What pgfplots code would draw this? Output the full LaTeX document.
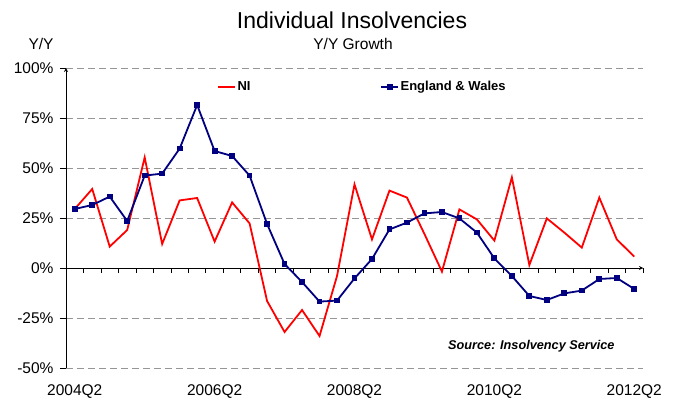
\documentclass[border=0pt]{standalone}
\usepackage{fontspec}
\setmainfont{Liberation Sans}
\usepackage{pgfplots}
\usepackage{pgfplotstable}
\pgfplotsset{compat=1.18}

\definecolor{ewblue}{RGB}{0,0,128}
\definecolor{nired}{RGB}{255,0,0}
\definecolor{gridgray}{RGB}{150,150,150}

% Year-on-year growth of individual insolvencies, quarterly from 2004Q2 to 2012Q2
\pgfplotstableread{
q  ni     ew
0  29.5   29.5
1  39.5   31.5
2  10.7   35.7
3  19.0   23.5
4  55.3   46.2
5  12.0   47.2
6  33.8   59.7
7  35.0   81.5
8  13.2   58.5
9  32.8   56.0
10 22.3   46.2
11 -16.5  22.0
12 -32.0  2.0
13 -21.0  -7.0
14 -34.0  -16.8
15 -4.0   -16.3
16 41.8   -5.2
17 14.3   4.5
18 38.7   19.3
19 35.2   22.7
20 17.0   27.3
21 -1.8   28.0
22 29.3   24.8
23 24.3   17.7
24 13.7   4.8
25 45.3   -4.0
26 1.5    -14.0
27 24.8   -16.0
28 17.7   -12.7
29 10.2   -11.3
30 35.2   -5.5
31 14.3   -5.0
32 5.7    -10.5
}\growth

\pgfplotsset{
  frame/.style={
    scale only axis, width=577pt, height=300pt,
    at={(66pt,33pt)}, anchor=south west,
    xmin=-0.5, xmax=32.5, ymin=-50, ymax=100,
    axis line style={black, line width=0.8pt, -},
    tick style={black, line width=0.8pt},
    /pgf/number format/assume math mode=true,
    legend style={draw=none, fill=none, inner sep=0pt, anchor=west,
      font=\bfseries\fontsize{13}{15}\selectfont,
      nodes={inner sep=1.5pt}},
  },
}

\begin{document}
\begin{tikzpicture}[x=1pt, y=1pt]
\path[use as bounding box] (0,0) rectangle (676,401);

% grid, value axis and period labels
\begin{axis}[frame,
  axis y line=left, axis x line=bottom,
  x axis line style={draw=none},
  xtick={0,8,16,24,32},
  xticklabels={2004Q2,2006Q2,2008Q2,2010Q2,2012Q2},
  major x tick style={draw=none},
  xticklabel style={font=\fontsize{15.5}{18}\selectfont, yshift=-10pt},
  ytick={-50,-25,...,100},
  yticklabel={\pgfmathprintnumber{\tick}\%},
  yticklabel style={font=\fontsize{15.5}{18}\selectfont, xshift=-3pt},
  ytick align=outside, major tick length=6pt,
  ymajorgrids,
  grid style={gridgray, line width=0.8pt, dash pattern=on 7pt off 4pt},
  legend style={at={(rel axis cs:0.2617,0.937)}},
]
\addlegendimage{nired, line width=1.8pt}
\addlegendentry{NI}
\end{axis}

% zero line with quarter ticks, and the two series
\begin{axis}[frame,
  axis y line=none, axis x line=middle,
  xtick={-0.5,0.5,...,32.5}, xticklabels={},
  xtick align=outside, major tick length=5pt,
  ytick=\empty,
  legend style={at={(rel axis cs:0.5442,0.937)}},
]
\addplot[nired, line width=1.8pt, forget plot] table[x=q, y=ni] {\growth};
\addplot[ewblue, line width=1.8pt, mark=square*, mark size=2.4pt,
  mark options={fill=ewblue, draw=ewblue, line width=0pt}]
  table[x=q, y=ew] {\growth};
\addlegendentry{England \& Wales}
\end{axis}

\node[anchor=base, inner sep=0pt, font=\fontsize{23}{26}\selectfont] at (352,372) {Individual Insolvencies};
\node[anchor=base, inner sep=0pt, font=\fontsize{15.5}{18}\selectfont] at (353,351) {Y/Y Growth};
\node[anchor=base, inner sep=0pt, font=\fontsize{15.5}{18}\selectfont] at (41,351) {Y/Y};
\node[anchor=base west, inner sep=0pt, font=\bfseries\itshape\fontsize{12.7}{15}\selectfont] at (448,52) {Source: Insolvency Service};
\end{tikzpicture}
\end{document}
